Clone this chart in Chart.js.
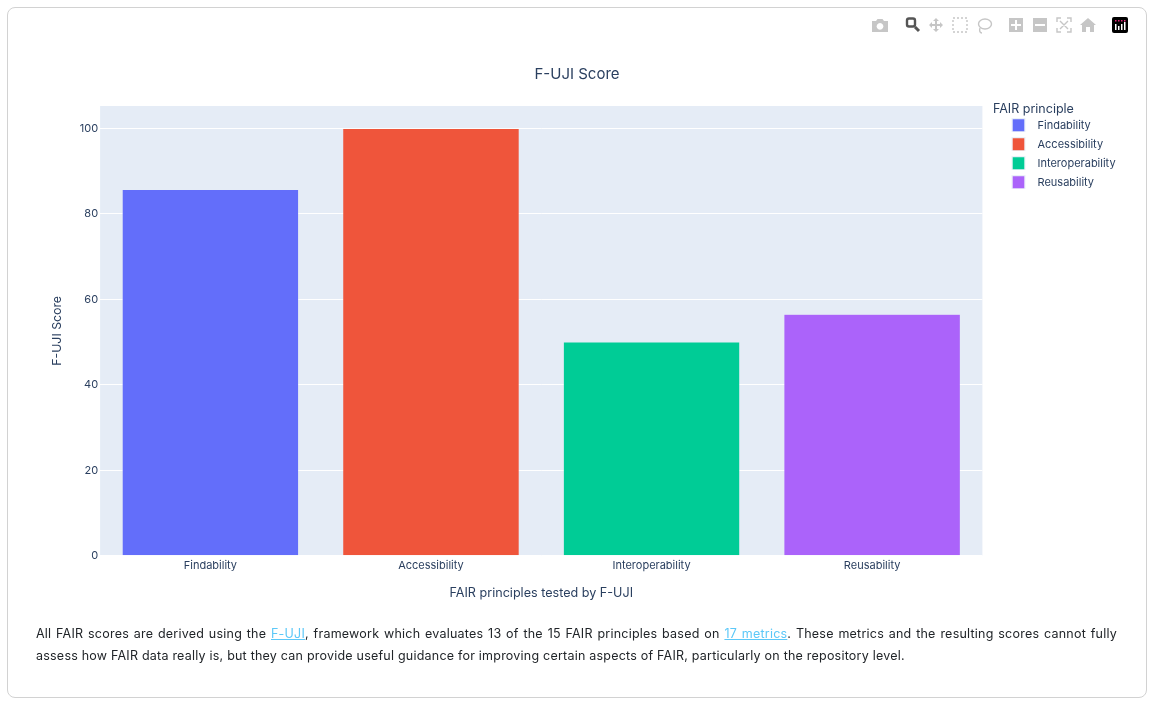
<!DOCTYPE html>
<html><head><meta charset="utf-8">
<style>
html,body{margin:0;padding:0;background:#fff;width:1154px;height:705px;overflow:hidden;font-family:Inter,"Noto Sans",sans-serif}
#card{position:absolute;left:7px;top:7px;width:1138px;height:689px;border:1px solid #d2d2d2;border-radius:8px}
#wrap{position:absolute;left:0;top:0;width:1154px;height:705px}
#note{position:absolute;left:36px;top:623px;width:1081px;font-size:12.5px;line-height:22px;color:#212529;text-align:justify;letter-spacing:.22px}
#note a{color:#5cc8f8;text-decoration:underline}
#bar{position:absolute;left:0;top:0}
</style></head><body>
<div id="card"></div>
<div id="wrap"><canvas id="c" width="1154" height="705"></canvas></div>
<svg id="bar" width="1154" height="50" viewBox="0 0 1154 50">
 <g fill="#c6c6c6">
  <path d="M872 21h4l1.5-2h5l1.5 2h4v11h-16z M880 23a3.4 3.4 0 1 0 .01 0z" fill-rule="evenodd"/>
  <path d="M936 18l3 3h-2v3h3v-2l3 3-3 3v-2h-3v3h2l-3 3-3-3h2v-3h-3v2l-3-3 3-3v2h3v-3h-2z"/>
  <path d="M1009 18h14v14h-14z M1011 24v2h4v4h2v-4h4v-2h-4v-4h-2v4z" fill-rule="evenodd"/>
  <path d="M1033 18h14v14h-14z M1035 24v2h10v-2z" fill-rule="evenodd"/>
  <path d="M1088 18l8 7h-2v7h-4v-5h-4v5h-4v-7h-2z"/>
 </g>
 <g fill="none" stroke="#c6c6c6" stroke-width="1.4">
  <rect x="953" y="18" width="14" height="14" stroke-dasharray="2 2"/>
  <ellipse cx="985" cy="24" rx="6.5" ry="5"/><path d="M980 28c-1 3 0 5 2 5"/>
  <path d="M1057 22v-4h4M1067 18h4v4M1071 28v4h-4M1061 32h-4v-4M1060 21l8 8M1068 21l-8 8"/>
 </g>
 <rect x="907" y="18.5" width="8" height="8" rx="2" fill="none" stroke="#555" stroke-width="2.4"/>
 <path d="M915 27l4 4" stroke="#555" stroke-width="3"/>
 <rect x="1112" y="17" width="16" height="16" rx="2" fill="#000"/>
 <path d="M1115 24h1.5v6h-1.5zM1118 26h1.5v4h-1.5zM1121 24h1.5v6h-1.5zM1124 22h1.5v8h-1.5z" fill="#fff"/>
 <path d="M1115 20h1.5v1.5h-1.5zM1118 20h1.5v1.5h-1.5zM1121 20h1.5v1.5h-1.5zM1124 20h1.5v1.5h-1.5z" fill="#e6267a"/>
</svg>
<div id="note">All FAIR scores are derived using the <a href="#">F-UJI</a>, framework which evaluates 13 of the 15 FAIR principles based on <a href="#">17 metrics</a>. These metrics and the resulting scores cannot fully assess how FAIR data really is, but they can provide useful guidance for improving certain aspects of FAIR, particularly on the repository level.</div>
<script src="https://cdn.jsdelivr.net/npm/chart.js@4"></script>
<script>
const categories = ["Findability","Accessibility","Interoperability","Reusability"];
const scores = [85.7,100,50,56.5];
const colors = ["#636EFA","#EF553B","#00CC96","#AB63FA"];
const yTicks = [0,20,40,60,80,100];
const FONT = 'Inter, "Noto Sans", sans-serif';
const INK = '#2a3f5f';

function swatch(color){
  const s=document.createElement('canvas'); s.width=31; s.height=14;
  const x=s.getContext('2d');
  x.fillStyle=color; x.fillRect(11.5,1,12,12);
  x.strokeStyle='rgba(229,236,246,.8)'; x.lineWidth=1; x.strokeRect(11,.5,13,13);
  return s;
}
const plotBg={id:'plotBg',
  afterLayout(ch){const l=ch.legend,w=l.right-l.left,h=l.bottom-l.top;l.left=993;l.right=993+w;l.top=103;l.bottom=103+h;},
  beforeDraw(ch){const a=ch.chartArea,x=ch.ctx;x.save();x.fillStyle='#E5ECF6';x.fillRect(a.left,a.top,a.right-a.left,a.bottom-a.top);x.restore();}};

new Chart(document.getElementById('c'),{
  type:'bar',
  plugins:[plotBg],
  data:{labels:categories,datasets:categories.map((n,i)=>({
    label:n,
    data:categories.map((_,j)=>j===i?scores[i]:null),
    backgroundColor:colors[i],borderColor:'rgba(229,236,246,.6)',borderWidth:.5,
    barPercentage:.8,categoryPercentage:1,stack:'s'
  }))},
  options:{
    responsive:false,animation:false,devicePixelRatio:1,
    layout:{padding:{left:39,right:39,top:65,bottom:104}},
    scales:{
      x:{stacked:true,grid:{display:false,drawTicks:false},border:{display:false},
        ticks:{color:INK,font:{family:FONT,size:11},padding:3,maxRotation:0},
        title:{display:true,text:'FAIR principles tested by F-UJI',color:INK,font:{family:FONT,size:12.6},padding:{top:11,bottom:0}}},
      y:{min:0,max:105.26,afterBuildTicks(s){s.ticks=yTicks.map(v=>({value:v}));},
        grid:{color:'#fff',lineWidth:1,drawTicks:false},border:{display:false},
        ticks:{color:INK,font:{family:FONT,size:11},padding:2},
        title:{display:true,text:'F-UJI Score',color:INK,font:{family:FONT,size:12.3},padding:{top:11,bottom:13}}}
    },
    plugins:{
      title:{display:true,text:'F-UJI Score',color:INK,font:{family:FONT,size:15,weight:'normal'},padding:{top:0,bottom:23}},
      tooltip:{enabled:false},
      legend:{position:'right',align:'start',
        title:{display:true,text:'FAIR principle',position:'start',color:INK,font:{family:FONT,size:12.5,lineHeight:.7},padding:{top:0,bottom:0}},
        labels:{color:INK,font:{family:FONT,size:11},usePointStyle:true,pointStyleWidth:31,padding:8,
          generateLabels(ch){return ch.data.datasets.map((d,i)=>({text:d.label,fontColor:INK,pointStyle:swatch(colors[i]),datasetIndex:i,lineWidth:0,strokeStyle:'transparent',fillStyle:'transparent'}));}}
      }
    }
  }
});
</script>
</body></html>
